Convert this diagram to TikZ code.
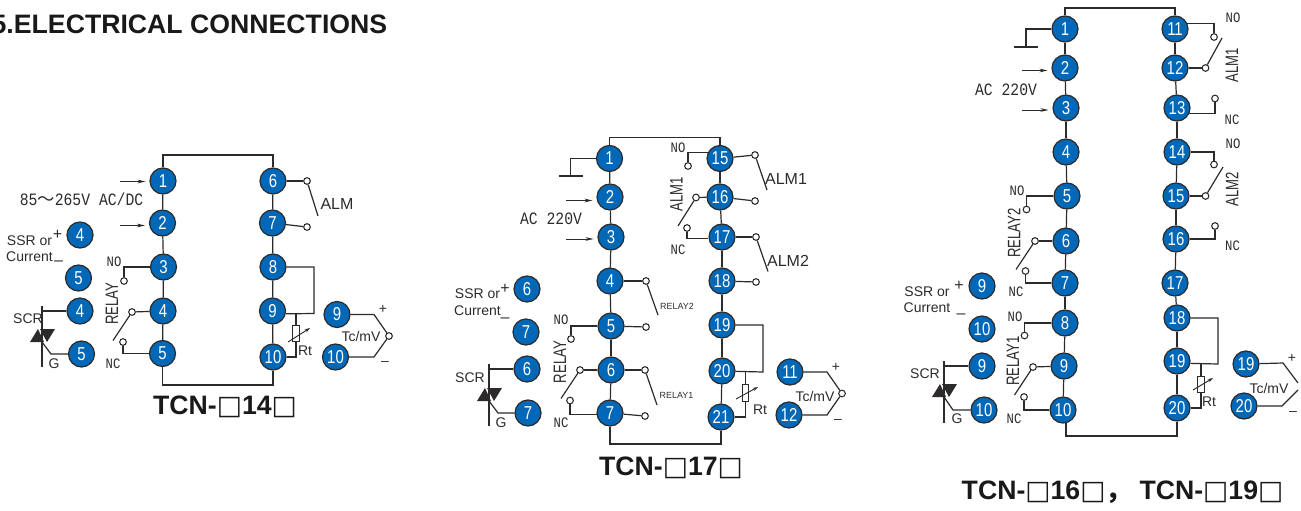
\documentclass[tikz,border=0pt]{standalone}
\usepackage{fontspec}
\setmainfont{Liberation Sans}
\newfontfamily\narrowfont[FakeStretch=0.73]{Liberation Sans}
\newfontfamily\pinfont[FakeStretch=0.8]{Liberation Sans}
\newfontfamily\monofont[FakeStretch=0.85]{Liberation Mono}
\newfontfamily\boxfont{DejaVu Sans}
\newfontfamily\cjkfont{Noto Sans CJK SC}
\usetikzlibrary{arrows.meta}

\definecolor{pinblue}{RGB}{0,104,183}
\definecolor{inkgray}{RGB}{45,42,43}

\newcommand{\tbox}{{\boxfont\mdseries □}}

\tikzset{
    wire/.style={draw=inkgray, line width=0.9pt},
    feed/.style={draw=inkgray, line width=0.65pt, -{Stealth[length=6pt,width=2.8pt]}, shorten >=3pt},
    pin/.style={circle, draw=inkgray, fill=pinblue, text=white, line width=0.9pt, minimum size=19.5pt, inner sep=0pt, font=\pinfont\fontsize{14}{14}\selectfont},
    term/.style={circle, draw=inkgray, fill=white, line width=0.8pt, minimum size=5pt, inner sep=0pt},
    resbox/.style={rectangle, draw=inkgray, fill=white, line width=0.8pt, minimum width=5pt, minimum height=12.5pt, inner sep=0pt},
    rtarrow/.style={draw=inkgray, line width=0.7pt, -{Stealth[length=4pt,width=2.6pt]}},
    lbl/.style={inner sep=0pt, text=inkgray, font=\fontsize{10.5}{10.5}\selectfont},
    alm/.style={inner sep=0pt, text=inkgray, font=\fontsize{12}{12}\selectfont},
    rly/.style={inner sep=0pt, text=inkgray, font=\fontsize{6.7}{6.7}\selectfont},
    mono/.style={inner sep=0pt, text=inkgray, font=\monofont\fontsize{13}{13}\selectfont},
    nonc/.style={inner sep=0pt, text=inkgray, font=\monofont\fontsize{10.8}{10.8}\selectfont},
    vert/.style={inner sep=0pt, text=inkgray, rotate=90, font=\narrowfont\fontsize{13.5}{13.5}\selectfont},
    heading/.style={inner sep=0pt, text=black!90, font=\bfseries\fontsize{20}{20}\selectfont}
}

\begin{document}
\begin{tikzpicture}[x=0.75pt, y=-0.75pt]

    \def \htopa {155}
    \def \lbota {385}
    \def \htopb {137.5}
    \def \lbotb {444}
    \def \htopc {8}
    \def \lbotc {436}

    \useasboundingbox (0,0) rectangle (1301,510);

    \node[heading, anchor=west] (title) at (-8.6,24) {5.ELECTRICAL CONNECTIONS};

    % TCN-14: terminal strip
    \node[pin] (ap1) at (163,181) {1};
    \node[pin] (ap2) at (162.5,223) {2};
    \node[pin] (ap3) at (163.5,267) {3};
    \node[pin] (ap4) at (163,311) {4};
    \node[pin] (ap5) at (162.5,353.5) {5};
    \node[pin] (ap6) at (273,181) {6};
    \node[pin] (ap7) at (272.5,223) {7};
    \node[pin] (ap8) at (273,267) {8};
    \node[pin] (ap9) at (272.5,311) {9};
    \node[pin] (ap10) at (273,357) {10};
    \coordinate (atm) at (218,\htopa);
    \coordinate (abm) at (218,\lbota);
    \draw[wire] (ap1) |- (atm) -| (ap6);
    \draw[wire] (ap5) |- (abm) -| (ap10);
    \draw[wire] (ap1) -- (ap2);
    \draw[wire] (ap2) -- (ap3);
    \draw[wire] (ap3) -- (ap4);
    \draw[wire] (ap4) -- (ap5);
    \draw[wire] (ap6) -- (ap7);
    \draw[wire] (ap7) -- (ap8);
    \draw[wire] (ap8) -- (ap9);
    \draw[wire] (ap9) -- (ap10);

    % TCN-14: supply
    \coordinate (aa1) at (120,181.5);
    \coordinate (aa2) at (120,225.5);
    \draw[feed] (aa1) -- (aa1 -| ap1.west);
    \draw[feed] (aa2) -- (aa2 -| ap2.west);
    \node[mono] (asup) at (81.5,199) {85{\cjkfont ～}265V AC/DC};

    % TCN-14: SSR output
    \node[pin] (as4) at (80,235) {4};
    \node[pin] (as5) at (78.5,278) {5};
    \node[lbl] (assr) at (29.5,241) {SSR or};
    \node[lbl] (acur) at (29.5,257) {Current};
    \node[alm] (asp) at (57.5,235) {+};
    \node[alm] (asm) at (58.5,263) {–};

    % TCN-14: SCR output
    \node[pin] (ac4) at (80,311) {4};
    \node[pin] (ac5) at (81.5,354) {5};
    \coordinate (act) at (42,306);
    \coordinate (acb) at (42,367);
    \coordinate (acg) at (42,342);
    \coordinate (ack) at (51,354);
    \draw[wire] (act) -- (acb);
    \draw[wire] (act |- ac4) -- (ac4);
    \draw[wire] (acg) -- (ack) -- (ac5);
    \fill[inkgray] (30,342) -- (44,342) -- (38,329) -- cycle;
    \fill[inkgray] (40,329) -- (55,329) -- (47,342) -- cycle;
    \node[lbl] (ascr) at (28,319) {SCR};
    \node[lbl] (agt) at (54,363.5) {G};

    % TCN-14: relay
    \node[term] (at3) at (124,281) {};
    \node[term] (at4) at (132,312) {};
    \node[term] (at5) at (123,342) {};
    \coordinate (aarm) at (113,340.5);
    \draw[wire] (ap3) -| (at3);
    \draw[wire] (ap4) -- (at4);
    \draw[wire] (at4) -- (aarm);
    \draw[wire] (at5) |- (ap5);
    \node[nonc] (ano) at (114,262) {NO};
    \node[nonc] (anc) at (113,364) {NC};
    \node[vert] (arly) at (112,303.5) {RELAY};

    % TCN-14: alarm
    \node[term] (at6) at (307,181) {};
    \node[term] (at7) at (307,227) {};
    \coordinate (aalm) at (318,216);
    \draw[wire] (ap6) -- (at6);
    \draw[wire] (at6) -- (aalm);
    \draw[wire] (ap7) -- (at7);
    \node[alm] (aalt) at (337,203.5) {ALM};

    % TCN-14: Rt
    \coordinate (aj8) at (314,313.5);
    \coordinate (aj9) at (296,313.5);
    \node[resbox] (ares) at (296,333.5) {};
    \draw[wire] (ap8) -| (aj8) -- (ap9.348);
    \draw[wire] (aj9) -- (ares);
    \draw[wire] (ares) |- (ap10);
    \coordinate (av1) at (288,342);
    \coordinate (av2) at (310,328);
    \draw[rtarrow] (av1) -- (av2);
    \node[lbl] (art) at (305,351) {Rt};

    % TCN-14: Tc/mV input
    \node[pin] (at9) at (337,314.5) {9};
    \node[pin] (at10) at (335.5,357) {10};
    \node[term] (atc) at (389,336) {};
    \coordinate (au1) at (374,314.5);
    \coordinate (au2) at (374,357);
    \draw[wire] (at9) -- (au1) -- (atc);
    \draw[wire] (at10) -- (au2) -- (atc);
    \node[lbl] (atx) at (361,336) {Tc/mV};
    \node[lbl] (atp) at (383,309) {+};
    \node[lbl] (atm2) at (385,363) {–};

    \node[heading] (aname) at (225,407) {TCN-\tbox 14\tbox};

    % TCN-17: terminal strip
    \node[pin] (bp1) at (609.5,158.5) {1};
    \node[pin] (bp2) at (610,197) {2};
    \node[pin] (bp3) at (611,237) {3};
    \node[pin] (bp4) at (610,281) {4};
    \node[pin] (bp5) at (611,326) {5};
    \node[pin] (bp6) at (611,370) {6};
    \node[pin] (bp7) at (610,413) {7};
    \node[pin] (bp15) at (720,158.5) {15};
    \node[pin] (bp16) at (720,197) {16};
    \node[pin] (bp17) at (722,237) {17};
    \node[pin] (bp18) at (722,281) {18};
    \node[pin] (bp19) at (722,325) {19};
    \node[pin] (bp20) at (722,371) {20};
    \node[pin] (bp21) at (721,417) {21};
    \coordinate (btm) at (665,\htopb);
    \coordinate (bbm) at (665,\lbotb);
    \draw[wire] (bp1) |- (btm) -| (bp15);
    \draw[wire] (bp7) |- (bbm) -| (bp21);
    \draw[wire] (bp1) -- (bp2);
    \draw[wire] (bp2) -- (bp3);
    \draw[wire] (bp3) -- (bp4);
    \draw[wire] (bp4) -- (bp5);
    \draw[wire] (bp5) -- (bp6);
    \draw[wire] (bp6) -- (bp7);
    \draw[wire] (bp15) -- (bp16);
    \draw[wire] (bp16) -- (bp17);
    \draw[wire] (bp17) -- (bp18);
    \draw[wire] (bp18) -- (bp19);
    \draw[wire] (bp19) -- (bp20);
    \draw[wire] (bp20) -- (bp21);

    % TCN-17: supply and earth
    \coordinate (bg0) at (570.5,176);
    \coordinate (bg1) at (559,176);
    \coordinate (bg2) at (583,176);
    \draw[wire] (bp1) -| (bg0);
    \draw[wire] (bg1) -- (bg2);
    \coordinate (ba2) at (566,200.5);
    \coordinate (ba3) at (566,239);
    \draw[feed] (ba2) -- (ba2 -| bp2.west);
    \draw[feed] (ba3) -- (ba3 -| bp3.west);
    \node[mono] (bsup) at (551,219) {AC 220V};

    % TCN-17: SSR output
    \node[pin] (bs6) at (527,289) {6};
    \node[pin] (bs7) at (526,332) {7};
    \node[lbl] (bssr) at (477.5,294) {SSR or};
    \node[lbl] (bcur) at (477.5,311) {Current};
    \node[alm] (bsp) at (505,289) {+};
    \node[alm] (bsm) at (505,320) {–};

    % TCN-17: SCR output
    \node[pin] (bc6) at (527,369) {6};
    \node[pin] (bc7) at (528,413) {7};
    \coordinate (bct) at (489,364);
    \coordinate (bcb) at (489,426);
    \coordinate (bcg) at (489,401);
    \coordinate (bck) at (498,413);
    \draw[wire] (bct) -- (bcb);
    \draw[wire] (bct |- bc6) -- (bc6);
    \draw[wire] (bcg) -- (bck) -- (bc7);
    \fill[inkgray] (477,401) -- (491,401) -- (485,388) -- cycle;
    \fill[inkgray] (487,388) -- (502,388) -- (494,401) -- cycle;
    \node[lbl] (bscr) at (470,378) {SCR};
    \node[lbl] (bgt) at (501,423) {G};

    % TCN-17: relay
    \node[term] (bt5) at (571,339) {};
    \node[term] (bt6) at (580,370) {};
    \node[term] (bt7) at (570,400.5) {};
    \coordinate (barm) at (561,398.5);
    \draw[wire] (bp5) -| (bt5);
    \draw[wire] (bp6) -- (bt6);
    \draw[wire] (bt6) -- (barm);
    \draw[wire] (bt7) |- (bp7.188);
    \node[nonc] (bno) at (561,320) {NO};
    \node[nonc] (bnc) at (561,423) {NC};
    \node[vert] (brly) at (560,362) {RELAY};

    % TCN-17: relay contacts
    \node[term] (bq4) at (646,281) {};
    \node[term] (bq5) at (646,327) {};
    \node[term] (bq6) at (645,370) {};
    \node[term] (bq7) at (645,416) {};
    \coordinate (brm1) at (658,315);
    \coordinate (brm2) at (657,405);
    \draw[wire] (bp4) -- (bq4);
    \draw[wire] (bq4) -- (brm1);
    \draw[wire] (bp5) -- (bq5);
    \draw[wire] (bp6) -- (bq6);
    \draw[wire] (bq6) -- (brm2);
    \draw[wire] (bp7) -- (bq7);
    \node[rly] (brl2) at (677,306) {RELAY2};
    \node[rly] (brl1) at (676.5,395.5) {RELAY1};

    % TCN-17: alarm 1 and 2, left side
    \node[term] (bn15) at (688,166) {};
    \node[term] (bn16) at (696,197.5) {};
    \node[term] (bn17) at (687,228) {};
    \coordinate (barn) at (678,226);
    \draw[wire] (bn15) |- (bp15.155);
    \draw[wire] (bp16) -- (bn16);
    \draw[wire] (bn16) -- (barn);
    \draw[wire] (bn17) |- (bp17.186);
    \node[nonc] (bno2) at (678,148) {NO};
    \node[nonc] (bnc2) at (678,250) {NC};
    \node[vert] (bal) at (676.5,194) {ALM1};

    % TCN-17: alarm 1 and 2, right side
    \node[term] (bm15) at (755,155) {};
    \node[term] (bm16) at (755,201) {};
    \node[term] (bm17) at (756,237) {};
    \node[term] (bm18) at (756,282) {};
    \coordinate (bal1) at (767,190);
    \coordinate (bal2) at (768,271.5);
    \draw[wire] (bp15) -- (bm15);
    \draw[wire] (bm15) -- (bal1);
    \draw[wire] (bp16) -- (bm16);
    \draw[wire] (bp17) -- (bm17);
    \draw[wire] (bm17) -- (bal2);
    \draw[wire] (bp18) -- (bm18);
    \node[alm] (balt1) at (786,179) {ALM1};
    \node[alm] (balt2) at (788,261) {ALM2};

    % TCN-17: Rt
    \coordinate (bj19) at (763,372);
    \coordinate (bj20) at (745.5,372);
    \node[resbox] (bres) at (745.5,393) {};
    \draw[wire] (bp19) -| (bj19) -- (bp20);
    \draw[wire] (bj20) -- (bres);
    \draw[wire] (bres) |- (bp21);
    \coordinate (bv1) at (736,399);
    \coordinate (bv2) at (758,387);
    \draw[rtarrow] (bv1) -- (bv2);
    \node[lbl] (brt) at (760,410) {Rt};

    % TCN-17: Tc/mV input
    \node[pin] (bt11) at (790,372) {11};
    \node[pin] (bt12) at (789,415) {12};
    \node[term] (btc) at (842,393.5) {};
    \coordinate (bu1) at (827,372);
    \coordinate (bu2) at (827,415);
    \draw[wire] (bt11) -- (bu1) -- (btc);
    \draw[wire] (bt12) -- (bu2) -- (btc);
    \node[lbl] (btx) at (815,396) {Tc/mV};
    \node[lbl] (btp) at (836,367) {+};
    \node[lbl] (btm2) at (838,421) {–};

    \node[heading] (bname) at (671,468) {TCN-\tbox 17\tbox};

    % TCN-16, TCN-19: terminal strip
    \node[pin] (cp1) at (1065,29) {1};
    \node[pin] (cp2) at (1065,68) {2};
    \node[pin] (cp3) at (1066,108) {3};
    \node[pin] (cp4) at (1066,152) {4};
    \node[pin] (cp5) at (1067,196) {5};
    \node[pin] (cp6) at (1066,241) {6};
    \node[pin] (cp7) at (1065,283) {7};
    \node[pin] (cp8) at (1065,323) {8};
    \node[pin] (cp9) at (1064,366) {9};
    \node[pin] (cp10) at (1063,410) {10};
    \node[pin] (cp11) at (1175,29) {11};
    \node[pin] (cp12) at (1175,68) {12};
    \node[pin] (cp13) at (1177,108) {13};
    \node[pin] (cp14) at (1177,152) {14};
    \node[pin] (cp15) at (1176,196) {15};
    \node[pin] (cp16) at (1176,239) {16};
    \node[pin] (cp17) at (1175,283) {17};
    \node[pin] (cp18) at (1177,318) {18};
    \node[pin] (cp19) at (1177,361) {19};
    \node[pin] (cp20) at (1177,408) {20};
    \coordinate (ctm) at (1120,\htopc);
    \coordinate (cbm) at (1120,\lbotc);
    \draw[wire] (cp1) |- (ctm) -| (cp11);
    \draw[wire] (cp10.283) |- (cbm) -| (cp20);
    \draw[wire] (cp1) -- (cp2);
    \draw[wire] (cp2) -- (cp3);
    \draw[wire] (cp3) -- (cp4);
    \draw[wire] (cp4) -- (cp5);
    \draw[wire] (cp5) -- (cp6);
    \draw[wire] (cp6) -- (cp7);
    \draw[wire] (cp7) -- (cp8);
    \draw[wire] (cp8) -- (cp9);
    \draw[wire] (cp9) -- (cp10);
    \draw[wire] (cp11) -- (cp12);
    \draw[wire] (cp12) -- (cp13);
    \draw[wire] (cp13) -- (cp14);
    \draw[wire] (cp14) -- (cp15);
    \draw[wire] (cp15) -- (cp16);
    \draw[wire] (cp16) -- (cp17);
    \draw[wire] (cp17) -- (cp18);
    \draw[wire] (cp18) -- (cp19);
    \draw[wire] (cp19) -- (cp20);

    % TCN-16, TCN-19: supply and earth
    \coordinate (cg0) at (1026,47);
    \coordinate (cg1) at (1014,47);
    \coordinate (cg2) at (1038,47);
    \draw[wire] (cp1) -| (cg0);
    \draw[wire] (cg1) -- (cg2);
    \coordinate (ca2) at (1022,70.5);
    \coordinate (ca3) at (1022,110);
    \draw[feed] (ca2) -- (ca2 -| cp2.west);
    \draw[feed] (ca3) -- (ca3 -| cp3.west);
    \node[mono] (csup) at (1006,90) {AC 220V};

    % TCN-16, TCN-19: relay 2
    \node[term] (ct5) at (1026.5,209.5) {};
    \node[term] (ct6) at (1035,241) {};
    \node[term] (ct7) at (1025.5,271) {};
    \coordinate (carm) at (1016,269.5);
    \draw[wire] (cp5) -| (ct5);
    \draw[wire] (cp6) -- (ct6);
    \draw[wire] (ct6) -- (carm);
    \draw[wire] (ct7) |- (cp7);
    \node[nonc] (cno) at (1017,191) {NO};
    \node[nonc] (cnc) at (1016,292) {NC};
    \node[vert] (crly) at (1014,233) {RELAY2};

    % TCN-16, TCN-19: relay 1
    \node[term] (ct8) at (1024.5,335.5) {};
    \node[term] (ct9) at (1033,367) {};
    \node[term] (ct10) at (1024,397) {};
    \coordinate (carm2) at (1014.5,395);
    \draw[wire] (cp8) -| (ct8);
    \draw[wire] (cp9) -- (ct9);
    \draw[wire] (ct9) -- (carm2);
    \draw[wire] (ct10) |- (cp10);
    \node[nonc] (cno2) at (1015,317) {NO};
    \node[nonc] (cnc2) at (1014,419) {NC};
    \node[vert] (crly1) at (1013,361) {RELAY1};

    % TCN-16, TCN-19: SSR output
    \node[pin] (cs9) at (982,286) {9};
    \node[pin] (cs10) at (982,329) {10};
    \node[lbl] (cssr) at (927,292) {SSR or};
    \node[lbl] (ccur) at (927,308) {Current};
    \node[alm] (csp) at (959,286) {+};
    \node[alm] (csm) at (961,316) {–};

    % TCN-16, TCN-19: SCR output
    \node[pin] (cc9) at (982,366) {9};
    \node[pin] (cc10) at (984,410) {10};
    \coordinate (cct) at (944,361);
    \coordinate (ccb) at (944,423);
    \coordinate (ccg) at (944,397);
    \coordinate (cck) at (953,410);
    \draw[wire] (cct) -- (ccb);
    \draw[wire] (cct |- cc9) -- (cc9);
    \draw[wire] (ccg) -- (cck) -- (cc10);
    \fill[inkgray] (932,397) -- (946,397) -- (940,384) -- cycle;
    \fill[inkgray] (942,384) -- (957,384) -- (949,397) -- cycle;
    \node[lbl] (cscr) at (925,374) {SCR};
    \node[lbl] (cgt) at (957,419) {G};

    % TCN-16, TCN-19: alarm 1
    \node[term] (cn11) at (1214,37) {};
    \node[term] (cn12) at (1205.5,68) {};
    \node[term] (cn13) at (1215,98.5) {};
    \coordinate (car1) at (1222,38);
    \draw[wire] (cn11) |- (cp11.25);
    \draw[wire] (cp12) -- (cn12);
    \draw[wire] (cn12) -- (car1);
    \draw[wire] (cn13) |- (cp13.335);
    \node[nonc] (cno3) at (1233,18) {NO};
    \node[nonc] (cnc3) at (1232,120) {NC};
    \node[vert] (cal1) at (1232,65) {ALM1};

    % TCN-16, TCN-19: alarm 2
    \node[term] (cn14) at (1214,164.5) {};
    \node[term] (cn15) at (1205.5,196) {};
    \node[term] (cn16) at (1215,226) {};
    \coordinate (car2) at (1223,167);
    \draw[wire] (cn14) |- (cp14);
    \draw[wire] (cp15) -- (cn15);
    \draw[wire] (cn15) -- (car2);
    \draw[wire] (cn16) |- (cp16);
    \node[nonc] (cno4) at (1233,144) {NO};
    \node[nonc] (cnc4) at (1232.5,246) {NC};
    \node[vert] (cal2) at (1232,189) {ALM2};

    % TCN-16, TCN-19: Rt
    \coordinate (cj18) at (1218,364);
    \coordinate (cj19) at (1201,364);
    \node[resbox] (cres) at (1201,384.5) {};
    \draw[wire] (cp18) -| (cj18) -- (cp19.350);
    \draw[wire] (cj19) -- (cres);
    \draw[wire] (cres) |- (cp20);
    \coordinate (cv1) at (1193,390);
    \coordinate (cv2) at (1213,378);
    \draw[rtarrow] (cv1) -- (cv2);
    \node[lbl] (crt) at (1209,402) {Rt};

    % TCN-16, TCN-19: Tc/mV input
    \node[pin] (ct19) at (1246,364) {19};
    \node[pin] (ct20) at (1244,406) {20};
    \coordinate (cu1) at (1283,363);
    \coordinate (cu2) at (1282,406);
    \coordinate (cw1) at (1298,383);
    \coordinate (cw2) at (1298,390);
    \draw[wire] (ct19) -- (cu1) -- (cw1);
    \draw[wire] (ct20) -- (cu2) -- (cw2);
    \node[lbl] (ctx) at (1269,388) {Tc/mV};
    \node[lbl] (ctp) at (1292,358) {+};
    \node[lbl] (ctm2) at (1293,413) {–};

    \node[heading] (cname) at (1122.5,492) {TCN-\tbox 16\tbox{\cjkfont ，} TCN-\tbox 19\tbox};

\end{tikzpicture}
\end{document}
